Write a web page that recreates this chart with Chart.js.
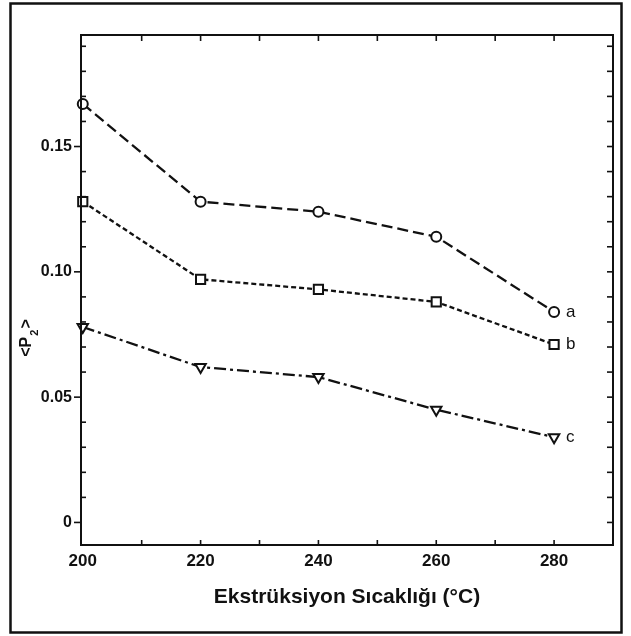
<!DOCTYPE html>
<html lang="tr">
<head>
<meta charset="UTF-8">
<title>&lt;P2&gt; - Ekstrüksiyon Sıcaklığı</title>
<script src="https://cdn.jsdelivr.net/npm/chart.js"></script>
<style>
    body { margin: 0; padding: 0; background: #fff; }
    #wrap { width: 631px; height: 636px; }
</style>
</head>
<body>
<div id="wrap"><canvas id="p2Chart" width="631" height="636"></canvas></div>
<script>
// Ekstrüksiyon sıcaklığı (°C)
const sicaklik = [200, 220, 240, 260, 280];
// <P2> değerleri
const seriA = [0.167, 0.128, 0.124, 0.114, 0.084];
const seriB = [0.128, 0.097, 0.093, 0.088, 0.071];
const seriC = [0.078, 0.062, 0.058, 0.045, 0.034];
const seriEtiket = ['a', 'b', 'c'];

// eksen etiketleri ve ara çentikler
const xTickLabels = [200, 220, 240, 260, 280];
const yTickLabels = [0, 0.05, 0.10, 0.15];
const xMinorTicks = [210, 220, 230, 240, 250, 260, 270, 280];
const yMinorTicks = [0, 0.01, 0.02, 0.03, 0.04, 0.05, 0.06, 0.07, 0.08, 0.09, 0.10,
                     0.11, 0.12, 0.13, 0.14, 0.15, 0.16, 0.17, 0.18, 0.19];

const FONT = "'Liberation Sans', Arial, sans-serif";
const INK = '#111';
Chart.defaults.font.family = FONT;
Chart.defaults.color = INK;

function seri(values, style, dash, radius, rotation) {
    return {
        data: sicaklik.map((x, i) => ({ x: x, y: values[i] })),
        borderColor: INK,
        borderWidth: 2.3,
        borderDash: dash,
        pointStyle: style,
        pointRadius: radius,
        pointRotation: rotation,
        pointBorderWidth: 2,
        pointBorderColor: INK,
        pointBackgroundColor: '#fff',
        tension: 0,
        clip: false
    };
}

// çerçeve, çentikler, eğri etiketleri ve y başlığı
const cizimEklentisi = {
    id: 'cizimEklentisi',
    afterDraw(chart) {
        const ctx = chart.ctx;
        const { left, right, top, bottom } = chart.chartArea;
        const xs = chart.scales.x, ys = chart.scales.y;
        ctx.save();
        ctx.strokeStyle = INK;

        // dış çerçeve
        ctx.lineWidth = 2.5;
        ctx.strokeRect(10.5, 3.5, 611, 629);

        // grafik kutusu
        ctx.lineWidth = 2;
        ctx.strokeRect(left, top, right - left, bottom - top);

        const line = (x1, y1, x2, y2) => {
            ctx.beginPath(); ctx.moveTo(x1, y1); ctx.lineTo(x2, y2); ctx.stroke();
        };
        ctx.lineWidth = 1.6;
        xMinorTicks.forEach(v => {
            const px = xs.getPixelForValue(v);
            line(px, bottom, px, bottom - 5);
            line(px, top, px, top + 6);
        });
        yMinorTicks.forEach(v => {
            const py = ys.getPixelForValue(v);
            const major = yTickLabels.some(t => Math.abs(t - v) < 1e-9);
            if (major) line(left - 7, py, left, py);
            else line(left, py, left + 5, py);
            line(right, py, right - 6, py);
        });

        // a, b, c etiketleri
        ctx.fillStyle = INK;
        ctx.font = '17px ' + FONT;
        ctx.textAlign = 'left';
        ctx.textBaseline = 'middle';
        chart.data.datasets.forEach((ds, i) => {
            const pts = chart.getDatasetMeta(i).data;
            const p = pts[pts.length - 1];
            ctx.fillText(seriEtiket[i], p.x + 12, p.y);
        });

        // y ekseni başlığı <P2>
        ctx.translate(31, (top + bottom) / 2 + 48);
        ctx.rotate(-Math.PI / 2);
        ctx.textBaseline = 'alphabetic';
        const big = 'bold 16px ' + FONT, small = 'bold 11px ' + FONT;
        ctx.font = big;
        const w1 = ctx.measureText('<P').width, w3 = ctx.measureText('>').width;
        ctx.font = small;
        const w2 = ctx.measureText('2').width;
        let x0 = -(w1 + w2 + w3 + 2) / 2;
        ctx.font = big;
        ctx.fillText('<P', x0, 0);
        ctx.font = small;
        ctx.fillText('2', x0 + w1 + 1, 7);
        ctx.font = big;
        ctx.fillText('>', x0 + w1 + w2 + 2, 0);
        ctx.restore();
    }
};

const ctx = document.getElementById('p2Chart').getContext('2d');
new Chart(ctx, {
    type: 'line',
    data: {
        datasets: [
            seri(seriA, 'circle', [11, 5], 5, 0),
            seri(seriB, 'rect', [5, 3], 6.5, 0),
            seri(seriC, 'triangle', [12, 4, 3, 4], 6, 180)
        ]
    },
    options: {
        responsive: false,
        animation: false,
        layout: { padding: { left: 0, top: 35, right: 18, bottom: 0 } },
        plugins: { legend: { display: false }, tooltip: { enabled: false } },
        scales: {
            x: {
                type: 'linear',
                min: 199.7,
                max: 290,
                afterBuildTicks: ax => { ax.ticks = xTickLabels.map(v => ({ value: v })); },
                afterFit: ax => { ax.height = 91; },
                grid: { display: false, drawTicks: false },
                border: { display: false },
                ticks: { padding: 6, maxRotation: 0, autoSkip: false, color: INK, font: { size: 17, weight: 'bold' } },
                title: {
                    display: true,
                    text: 'Ekstrüksiyon Sıcaklığı (°C)',
                    color: INK,
                    font: { size: 21, weight: 'bold' },
                    padding: { top: 0, bottom: 26 }
                }
            },
            y: {
                type: 'linear',
                min: -0.009,
                max: 0.1945,
                afterBuildTicks: ax => { ax.ticks = yTickLabels.map(v => ({ value: v })); },
                afterFit: ax => { ax.width = 81; },
                grid: { display: false, drawTicks: false },
                border: { display: false },
                ticks: {
                    padding: 9,
                    color: INK,
                    font: { size: 16, weight: 'bold' },
                    callback: v => (v === 0 ? '0' : v.toFixed(2))
                }
            }
        }
    },
    plugins: [cizimEklentisi]
});
</script>
</body>
</html>
